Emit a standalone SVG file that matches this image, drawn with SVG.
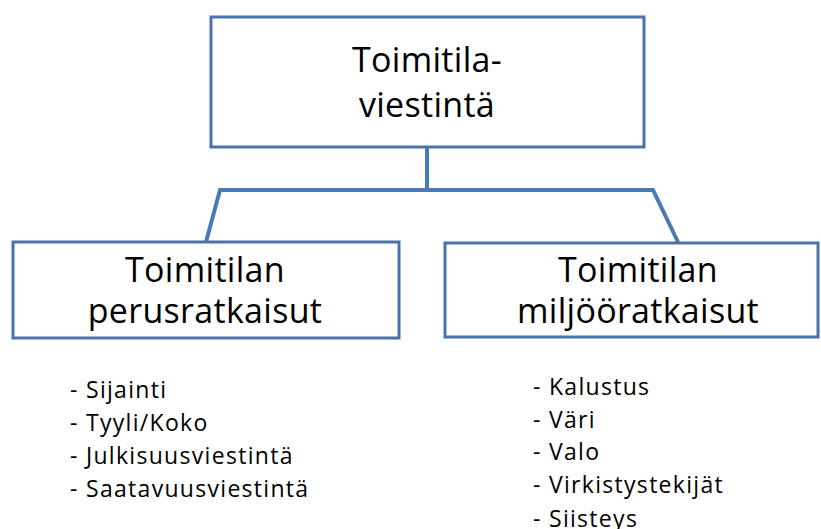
<svg xmlns="http://www.w3.org/2000/svg" width="821" height="529" viewBox="0 0 821 529">
  <style>
    .box { fill: #ffffff; stroke: #4a72aa; stroke-width: 3; }
    .link { fill: none; stroke: #4a7ab5; stroke-width: 4; stroke-linejoin: miter; }
    .title { font-family: "Open Sans", "Liberation Sans", sans-serif; font-size: 34px; letter-spacing: 0.3px; fill: #000; text-anchor: middle; }
    .item { font-family: "Open Sans", "Liberation Sans", sans-serif; font-size: 23px; letter-spacing: 1.3px; fill: #000; }
  </style>
  <rect width="821" height="529" fill="#ffffff"/>

  <g id="connectors">
    <path class="link" d="M427,147 V190"/>
    <path class="link" d="M206,242 L220,190 H653 L678,242"/>
  </g>

  <g id="root">
    <rect class="box" x="211" y="17" width="433" height="130"/>
    <text class="title" y="72"><tspan x="427">Toimitila-</tspan><tspan x="427" dy="45">viestintä</tspan></text>
  </g>

  <g id="perusratkaisut">
    <rect class="box" x="13" y="242" width="386" height="96"/>
    <text class="title" y="282"><tspan x="205">Toimitilan</tspan><tspan x="205" dy="41">perusratkaisut</tspan></text>
  </g>

  <g id="miljooratkaisut">
    <rect class="box" x="445" y="243" width="373" height="94"/>
    <text class="title" y="282"><tspan x="638">Toimitilan</tspan><tspan x="638" dy="41">miljööratkaisut</tspan></text>
  </g>

  <g id="perus-list">
    <text class="item" x="70" y="398">- Sijainti</text>
    <text class="item" x="70" y="431">- Tyyli/Koko</text>
    <text class="item" x="70" y="464">- Julkisuusviestintä</text>
    <text class="item" x="70" y="497">- Saatavuusviestintä</text>
  </g>

  <g id="miljoo-list">
    <text class="item" x="533" y="395">- Kalustus</text>
    <text class="item" x="533" y="428">- Väri</text>
    <text class="item" x="533" y="460">- Valo</text>
    <text class="item" x="533" y="493">- Virkistystekijät</text>
    <text class="item" x="533" y="527">- Siisteys</text>
  </g>
</svg>
